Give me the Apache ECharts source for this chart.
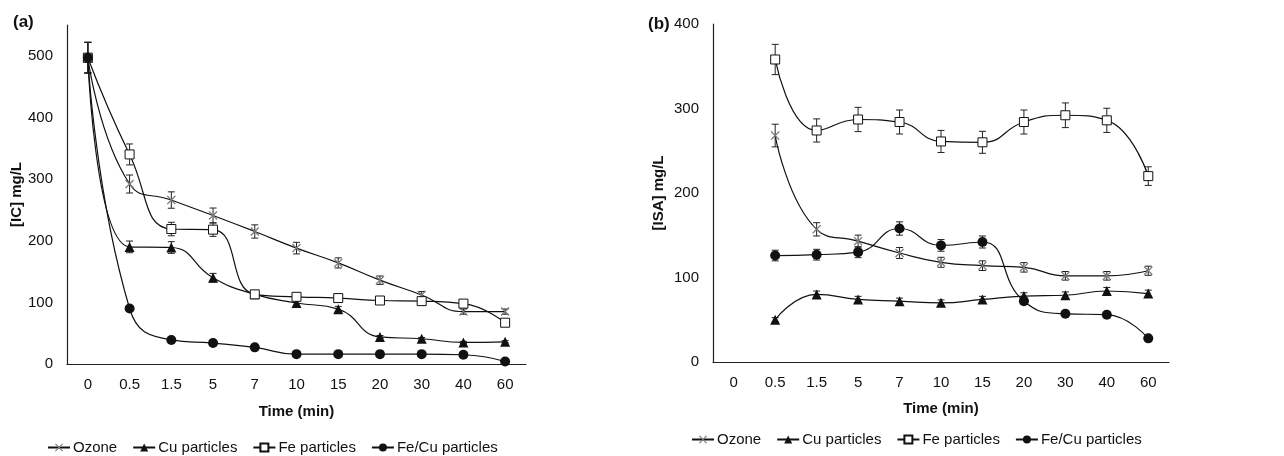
<!DOCTYPE html>
<html>
<head>
<meta charset="utf-8">
<script src="https://cdn.jsdelivr.net/npm/echarts@6/dist/echarts.min.js"></script>
<style>
    html, body { margin: 0; padding: 0; background: #fff; }
    #chart { width: 1284px; height: 456px; }
</style>
</head>
<body>
<div id="chart"></div>
<script>
// time points, same for both panels
const times = ['0', '0.5', '1.5', '5', '7', '10', '15', '20', '30', '40', '60'];
const names = ['Ozone', 'Cu particles', 'Fe particles', 'Fe/Cu particles'];

// panel (a) [IC] mg/L
const icOzone = [497, 292, 266, 241, 215, 188, 164, 136, 112, 85, 85];
const icCu = [497, 190, 189, 140, 113, 99, 89, 44, 41, 35, 36];
const icFe = [497, 340, 219, 218, 113, 109, 107, 103, 102, 98, 67];
const icFeCu = [497, 90, 39, 34, 27, 16, 16, 16, 16, 15, 4];

// panel (b) [ISA] mg/L, nothing measured at 0
const isaOzone = [null, 268, 157, 143, 129, 118, 114, 112, 102, 102, 108];
const isaCu = [null, 50, 80, 74, 72, 70, 74, 78, 79, 84, 81];
const isaFe = [null, 358, 274, 287, 284, 261, 260, 284, 292, 286, 220];
const isaFeCu = [null, 126, 127, 130, 158, 138, 142, 72, 57, 56, 28];

// the excel error bars are percentage bars
const errPercent = 5;

const font = 'Liberation Sans, Arial, sans-serif';
const xPath = 'path://M0,1L1,0L5,4L9,0L10,1L6,5L10,9L9,10L5,6L1,10L0,9L4,5Z';

const markers = {
    'Ozone': { symbol: xPath, symbolSize: 9, itemStyle: { color: '#7a7a7a' } },
    'Cu particles': { symbol: 'triangle', symbolSize: 10, itemStyle: { color: '#111' } },
    'Fe particles': { symbol: 'rect', symbolSize: 9, itemStyle: { color: '#fff', borderColor: '#111', borderWidth: 1 } },
    'Fe/Cu particles': { symbol: 'circle', symbolSize: 10, itemStyle: { color: '#111' } },
};

function lineSeries (name, values, idx) {
    const m = markers[name];
    return {
        name: name,
        type: 'line',
        xAxisIndex: idx,
        yAxisIndex: idx,
        data: values,
        smooth: 0.5,
        showAllSymbol: true,
        symbol: m.symbol,
        symbolSize: m.symbolSize,
        itemStyle: m.itemStyle,
        lineStyle: { color: '#111', width: 1.2 },
        z: 3,
        silent: true,
    };
}

function errorSeries (values, idx) {
    const data = [];
    values.forEach((v, i) => {
        if (v != null) data.push([i, v * (1 - errPercent / 100), v * (1 + errPercent / 100)]);
    });
    return {
        type: 'custom',
        xAxisIndex: idx,
        yAxisIndex: idx,
        data: data,
        encode: { x: 0, y: [1, 2] },
        z: 2,
        silent: true,
        renderItem: function (params, api) {
            const lo = api.coord([api.value(0), api.value(1)]);
            const hi = api.coord([api.value(0), api.value(2)]);
            const x = lo[0];
            const w = 3.5;
            const style = { stroke: '#222', lineWidth: 1 };
            return {
                type: 'group',
                children: [
                    { type: 'line', shape: { x1: x, y1: lo[1], x2: x, y2: hi[1] }, style: style },
                    { type: 'line', shape: { x1: x - w, y1: lo[1], x2: x + w, y2: lo[1] }, style: style },
                    { type: 'line', shape: { x1: x - w, y1: hi[1], x2: x + w, y2: hi[1] }, style: style },
                ]
            };
        }
    };
}

function xAxis (idx, gap) {
    return {
        type: 'category',
        gridIndex: idx,
        data: times,
        name: 'Time (min)',
        nameLocation: 'middle',
        nameGap: gap,
        nameTextStyle: { fontFamily: font, fontSize: 15, fontWeight: 'bold', color: '#111' },
        axisLine: { lineStyle: { color: '#222', width: 1.2 } },
        axisTick: { show: false },
        axisLabel: { fontFamily: font, fontSize: 15, color: '#111', margin: 13, interval: 0 },
    };
}

function yAxis (idx, name, max, gap) {
    return {
        type: 'value',
        gridIndex: idx,
        min: 0,
        max: max,
        interval: 100,
        name: name,
        nameLocation: 'middle',
        nameGap: gap,
        nameTextStyle: { fontFamily: font, fontSize: 15, fontWeight: 'bold', color: '#111' },
        axisLine: { show: true, lineStyle: { color: '#222', width: 1.2 } },
        axisTick: { show: false },
        splitLine: { show: false },
        axisLabel: {
            fontFamily: font, fontSize: 15, color: '#111', margin: 14,
            formatter: v => (v % 100 === 0 ? String(v) : '')
        },
    };
}

function legend (left, top) {
    return {
        data: names,
        left: left,
        top: top,
        padding: 0,
        itemWidth: 22,
        itemHeight: 10,
        itemGap: 15,
        textStyle: { fontFamily: font, fontSize: 15, color: '#111', padding: [0, 0, 0, -2] },
        selectedMode: false,
    };
}

const chart = echarts.init(document.getElementById('chart'));
chart.setOption({
    animation: false,
    backgroundColor: '#fff',
    title: [
        { text: '(a)', left: 8, top: 9, textStyle: { fontFamily: font, fontSize: 17, fontWeight: 'bold', color: '#111' } },
        { text: '(b)', left: 643, top: 11, textStyle: { fontFamily: font, fontSize: 17, fontWeight: 'bold', color: '#111' } },
    ],
    grid: [
        { left: 67, top: 25, width: 459, height: 339 },
        { left: 713, top: 24, width: 456, height: 338 },
    ],
    xAxis: [xAxis(0, 40), xAxis(1, 39)],
    yAxis: [yAxis(0, '[IC] mg/L', 550, 42), yAxis(1, '[ISA] mg/L', 400, 47)],
    legend: [legend(47, 440), legend(691, 432)],
    series: [
        errorSeries(icOzone, 0), errorSeries(icCu, 0), errorSeries(icFe, 0), errorSeries(icFeCu, 0),
        errorSeries(isaOzone, 1), errorSeries(isaCu, 1), errorSeries(isaFe, 1), errorSeries(isaFeCu, 1),
        lineSeries('Ozone', icOzone, 0),
        lineSeries('Cu particles', icCu, 0),
        lineSeries('Fe particles', icFe, 0),
        lineSeries('Fe/Cu particles', icFeCu, 0),
        lineSeries('Ozone', isaOzone, 1),
        lineSeries('Cu particles', isaCu, 1),
        lineSeries('Fe particles', isaFe, 1),
        lineSeries('Fe/Cu particles', isaFeCu, 1),
    ]
});
</script>
</body>
</html>
